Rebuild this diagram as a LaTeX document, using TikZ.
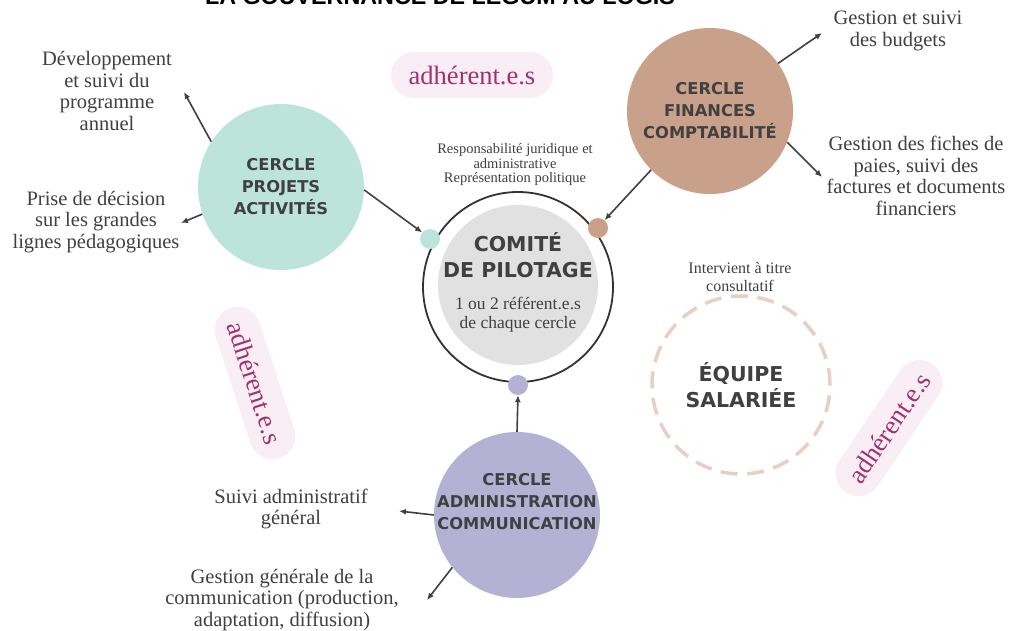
\documentclass[tikz,border=0pt]{standalone}
\usepackage{fontspec}
\setmainfont{Liberation Serif}
\newfontfamily\headfont{DejaVu Sans}
\newfontfamily\titlefont{Liberation Sans}
\usetikzlibrary{arrows.meta}

\definecolor{projets}{RGB}{189,228,218}
\definecolor{finances}{RGB}{201,160,138}
\definecolor{admin}{RGB}{179,178,212}
\definecolor{pilot}{RGB}{225,225,225}
\definecolor{equipe}{RGB}{232,207,195}
\definecolor{pillfill}{RGB}{250,238,246}
\definecolor{pilltext}{RGB}{164,48,108}
\definecolor{ink}{RGB}{64,64,64}

\tikzset{
  cercle/.style={circle, minimum size=166pt, inner sep=0pt, align=center,
    font=\headfont\bfseries\fontsize{16.3}{22}\selectfont, text=ink},
  bigtitle/.style={align=center, font=\headfont\bfseries\fontsize{20.5}{26.5}\selectfont, text=ink},
  task/.style={align=center, font=\fontsize{20.5}{21.5}\selectfont, text=ink},
  note/.style={align=center, font=\fontsize{14.5}{14.5}\selectfont, text=ink},
  dot/.style={circle, minimum size=20pt, inner sep=0pt},
  pill/.style={rectangle, rounded corners=23pt, minimum width=162pt, minimum height=46pt,
    fill=pillfill, text=pilltext, font=\fontsize{26.5}{28}\selectfont},
  link/.style={-{Latex[length=7pt,width=6pt]}, line width=1.6pt, draw=ink}
}

\begin{document}
\begin{tikzpicture}[x=1pt, y=-1pt]
  \useasboundingbox (0,0) rectangle (1012,631);

  % Title, cut at the top
  \node[anchor=base, font=\titlefont\bfseries\fontsize{23.3}{28}\selectfont] (titre) at (440,5) {LA GOUVERNANCE DE LEGUM AU LOGIS};

  % The pills
  \node[pill] (pillH) at (472,75) {adhérent.e.s};
  \node[pill, minimum width=158pt, rotate=-72] (pillG) at (255,383) {adhérent.e.s};
  \node[pill, minimum width=155pt, rotate=56] (pillD) at (889,428) {adhérent.e.s};

  % The circles
  \node[cercle, fill=projets] (projets) at (281,187) {CERCLE\\PROJETS\\ACTIVITÉS};
  \node[cercle, fill=finances] (finances) at (710,111) {CERCLE\\FINANCES\\COMPTABILITÉ};
  \node[cercle, fill=admin, label={[cercle, minimum size=0pt, yshift=13pt]center:CERCLE\\ADMINISTRATION\\COMMUNICATION}] (admin) at (517,515) {};

  % Comite de pilotage
  \node[circle, draw=ink!80!black, line width=1.8pt, minimum size=190pt] (comite) at (518,287) {};
  \node[circle, fill=pilot, minimum size=160pt] (pilotage) at (518,285) {};
  \node[bigtitle] (comite-titre) at (518,255) {COMITÉ\\DE PILOTAGE};
  \node[align=center, text=ink, font=\fontsize{17.5}{19}\selectfont] (comite-texte) at (518,315) {1 ou 2 référent.e.s\\de chaque cercle};
  \node[note] (responsabilite) at (515,165) {Responsabilité juridique et\\administrative\\Représentation politique};

  % Equipe salariee
  \node[circle, draw=equipe, line width=3.5pt, dash pattern=on 17pt off 9.6pt, minimum size=178pt,
    bigtitle] (equipe) at (741,385) {ÉQUIPE\\SALARIÉE};
  \node[note, font=\fontsize{16}{18}\selectfont] (consultatif) at (740,277) {Intervient à titre\\consultatif};

  % Dots on the comite
  \node[dot, fill=projets] (dotP) at (430,239) {};
  \node[dot, fill=finances] (dotF) at (598,228) {};
  \node[dot, fill=admin] (dotA) at (518,385) {};

  % The tasks
  \node[task] (devel) at (107,91) {Développement\\et suivi du\\programme\\annuel};
  \node[task] (decision) at (96,222) {Prise de décision\\sur les grandes\\lignes pédagogiques};
  \node[task] (budgets) at (898,31) {Gestion et suivi\\des budgets};
  \node[task] (fiches) at (916,176) {Gestion des fiches de\\paies, suivi des\\factures et documents\\financiers};
  \node[task] (suivi) at (291,509) {Suivi administratif\\général};
  \node[task] (gestion) at (282,600) {Gestion générale de la\\communication (production,\\adaptation, diffusion)};

  % Arrow ends
  \coordinate (devel-tip) at (184,92);
  \coordinate (decision-tip) at (181,223);
  \coordinate (budgets-tip) at (822,33);
  \coordinate (fiches-tip) at (822,177);
  \coordinate (suivi-tip) at (399,511);
  \coordinate (gestion-tip) at (427,600);

  \foreach \from/\ang/\to in {projets/147/devel-tip, projets/199/decision-tip,
    finances/35/budgets-tip, finances/338/fiches-tip,
    admin/180/suivi-tip, admin/219/gestion-tip} {
    \draw[link] (\from.\ang) -- (\to);
  }

  % Arrows to the comite
  \draw[link] (projets.-2) -- (dotP.140);
  \draw[link] (finances.225) -- (dotF.50);
  \draw[link] (admin.north) -- (dotA.south);
\end{tikzpicture}
\end{document}
